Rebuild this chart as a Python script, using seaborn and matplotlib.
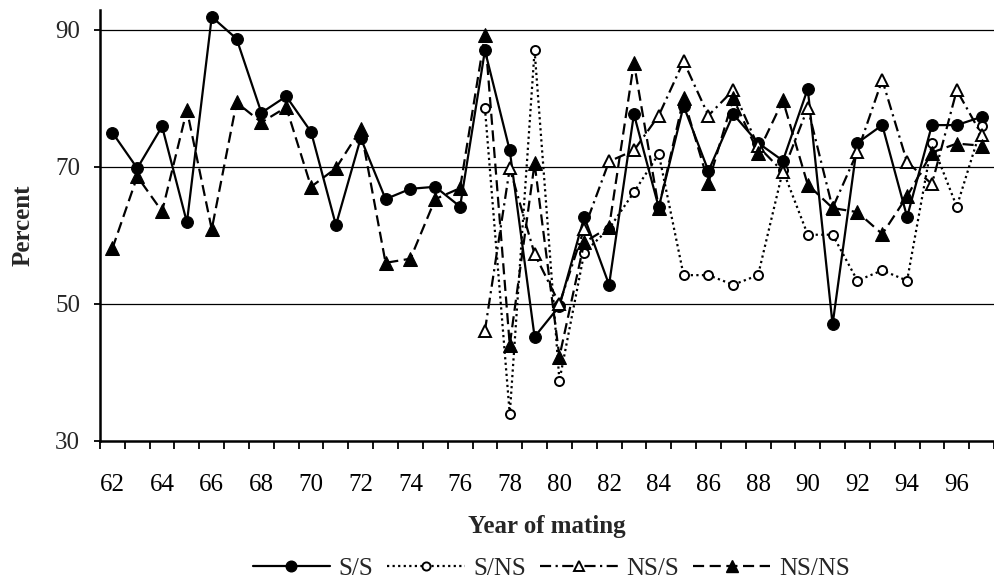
import numpy as np
import pandas as pd
import matplotlib
matplotlib.use("Agg")
import matplotlib.pyplot as plt
import seaborn as sns
from matplotlib.lines import Line2D

# Mating years and percentages for each mating combination
years = list(range(62, 98))
years_late = list(range(77, 98))

ss = [75.0, 69.8, 75.9, 61.9, 91.9, 88.7, 77.9, 80.3, 75.1, 61.5, 74.2, 65.3,
      66.8, 67.1, 64.2, 87.0, 72.4, 45.2, 49.7, 62.7, 52.8, 77.7, 64.1, 78.9,
      69.4, 77.7, 73.5, 70.9, 81.4, 47.0, 73.5, 76.1, 62.7, 76.1, 76.1, 77.3]
s_ns = [78.6, 33.9, 87.0, 38.8, 57.5, 61.0, 66.3, 71.9, 54.2, 54.2, 52.8,
        54.2, 69.5, 60.1, 60.1, 53.4, 54.9, 53.4, 73.5, 64.2, 75.9]
ns_s = [46.1, 69.8, 57.3, 50.0, 61.0, 70.8, 72.4, 77.5, 85.4, 77.5, 81.2,
        73.0, 69.3, 78.6, 64.0, 72.2, 82.7, 70.7, 67.5, 81.2, 74.7]
ns_ns = [58.1, 68.6, 63.5, 78.3, 60.9, 79.4, 76.5, 78.7, 67.1, 69.8, 75.5,
         56.0, 56.6, 65.3, 66.9, 89.3, 44.0, 70.5, 42.3, 59.0, 61.2, 85.2,
         64.0, 80.0, 67.7, 80.0, 72.1, 79.7, 67.4, 64.0, 63.4, 60.2, 65.7,
         72.1, 73.4, 73.1]

xtick_labels = [str(y) for y in range(62, 97, 2)]
yticks = [30, 50, 70, 90]

sns.set_theme(style="white")
plt.rcParams["font.family"] = ["Liberation Serif", "DejaVu Serif"]

fig = plt.figure(figsize=(9.95, 5.84), dpi=100)
ax = fig.add_axes([0.1005, 0.2449, 0.8985, 0.7380])

series = [
    ("S/S", years, ss, dict(linestyle="-", marker="o", markersize=8.5,
                            markerfacecolor="black", markeredgecolor="black")),
    ("S/NS", years_late, s_ns, dict(linestyle=(0, (1, 1.5)), marker="o",
                                    markersize=6.5, markerfacecolor="white",
                                    markeredgecolor="black", markeredgewidth=1.4)),
    ("NS/S", years_late, ns_s, dict(linestyle=(0, (5, 2, 1, 2)), marker="^",
                                    markersize=8, markerfacecolor="white",
                                    markeredgecolor="black", markeredgewidth=1.4)),
    ("NS/NS", years, ns_ns, dict(linestyle=(0, (5, 2.5)), marker="^",
                                 markersize=10, markerfacecolor="black",
                                 markeredgecolor="black")),
]

for name, xs, vals, style in series:
    df = pd.DataFrame({"year": xs, "pct": vals})
    sns.lineplot(data=df, x="year", y="pct", ax=ax, color="black",
                 linewidth=1.6, **style)

# Axis ranges and ticks (category-style x axis with boundary ticks)
ax.set_xlim(61.5, 97.5)
ax.set_ylim(30, 92.9)
ax.set_yticks(yticks)
ax.set_yticklabels([str(v) for v in yticks], fontsize=18)
ax.set_xticks(list(range(62, 97, 2)))
ax.set_xticklabels(xtick_labels, fontsize=18)
ax.set_xticks(np.arange(61.5, 98.0, 1.0), minor=True)
ax.tick_params(axis="x", which="major", length=0, pad=23.5, colors="black")
ax.tick_params(axis="x", which="minor", length=5.8, width=1.3, direction="out",
               color="black", bottom=True)
ax.tick_params(axis="y", which="major", length=4.3, width=1.3, direction="out",
               color="black", left=True, pad=10)

for v in [50, 70, 90]:
    ax.axhline(v, color="black", linewidth=0.9, zorder=0)

for side in ["top", "right"]:
    ax.spines[side].set_visible(False)
for side in ["left", "bottom"]:
    ax.spines[side].set_color("black")
    ax.spines[side].set_linewidth(1.8)

ax.set_xlabel("Year of mating", fontsize=18, fontweight="bold", labelpad=14)
ax.set_ylabel("Percent", fontsize=18, fontweight="bold", labelpad=15)

handles = []
for name, xs, vals, style in series:
    st = dict(style)
    ms = st.pop("markersize")
    handles.append(Line2D([0], [0], color="black", linewidth=1.6,
                          markersize=ms * 0.9, **st))
fig.legend(handles, [s[0] for s in series], loc="center",
           bbox_to_anchor=(0.554, 0.026), ncol=4, frameon=False, fontsize=18,
           handlelength=3.1, handletextpad=0.35, columnspacing=0.55,
           numpoints=1)

fig.savefig("out.png", dpi=100, facecolor="white")
